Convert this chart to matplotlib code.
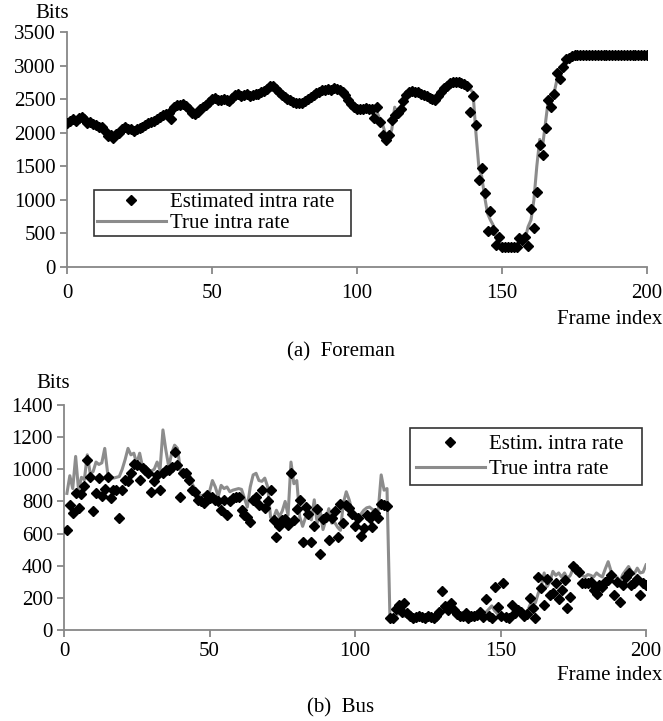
import matplotlib
matplotlib.use('Agg')
import matplotlib.pyplot as plt
import numpy as np

plt.rcParams['font.family'] = ['Liberation Serif', 'DejaVu Serif']

# (a) Foreman, frames 0..200
frames_a = np.arange(0, 201)
true_a = [
    2150, 2170, 2200, 2180, 2220, 2240, 2200, 2150, 2160, 2130,
    2110, 2090, 2080, 2030, 1990, 1970, 1960, 1980, 2020, 2060,
    2090, 2070, 2050, 2040, 2060, 2070, 2090, 2120, 2140, 2160,
    2180, 2210, 2240, 2260, 2280, 2310, 2340, 2380, 2410, 2420,
    2430, 2400, 2350, 2300, 2280, 2310, 2350, 2390, 2420, 2460,
    2500, 2510, 2490, 2480, 2500, 2480, 2470, 2520, 2560, 2570,
    2550, 2560, 2570, 2550, 2560, 2580, 2570, 2600, 2620, 2650,
    2690, 2700, 2650, 2600, 2560, 2530, 2500, 2480, 2460, 2450,
    2440, 2450, 2470, 2500, 2530, 2560, 2590, 2610, 2630, 2640,
    2650, 2640, 2660, 2650, 2630, 2600, 2560, 2480, 2430, 2390,
    2360, 2350, 2360, 2370, 2350, 2360, 2400, 2300, 2180, 2100,
    1950, 1920, 2050, 2380, 2250, 2380, 2480, 2560, 2600, 2620,
    2610, 2600, 2580, 2560, 2540, 2520, 2500, 2490, 2540, 2600,
    2660, 2700, 2740, 2750, 2760, 2760, 2740, 2720, 2700, 2650,
    2600, 2000, 1500, 1350, 1050, 800, 700, 620, 420, 380,
    320, 300, 300, 300, 310, 330, 380, 440, 420, 600,
    700, 1000, 1500, 1900, 1800, 2150, 2500, 2450, 2600, 2800,
    2850, 2980, 3080, 3120, 3140, 3150, 3150, 3150, 3150, 3150,
    3150, 3150, 3150, 3150, 3150, 3150, 3150, 3150, 3150, 3150,
    3150, 3150, 3150, 3155, 3155, 3155, 3155, 3160, 3160, 3160,
    3160,
]
est_a = [
    2150, 2170, 2200, 2180, 2220, 2240, 2200, 2150, 2160, 2130,
    2110, 2090, 2080, 2030, 1950, 1970, 1920, 1980, 2000, 2060,
    2090, 2050, 2050, 2030, 2060, 2070, 2090, 2120, 2140, 2160,
    2180, 2210, 2240, 2260, 2280, 2300, 2210, 2380, 2410, 2420,
    2430, 2400, 2350, 2300, 2280, 2310, 2350, 2390, 2420, 2460,
    2500, 2510, 2490, 2480, 2500, 2480, 2470, 2520, 2560, 2570,
    2550, 2560, 2570, 2550, 2560, 2580, 2570, 2600, 2620, 2650,
    2690, 2700, 2650, 2600, 2560, 2530, 2500, 2480, 2460, 2450,
    2440, 2450, 2470, 2500, 2530, 2560, 2590, 2610, 2630, 2640,
    2650, 2640, 2660, 2650, 2630, 2600, 2560, 2480, 2430, 2390,
    2360, 2350, 2360, 2370, 2350, 2360, 2220, 2390, 2160, 1960,
    1890, 1960, 2190, 2260, 2300, 2360, 2470, 2560, 2600, 2620,
    2610, 2600, 2580, 2560, 2540, 2520, 2500, 2490, 2540, 2600,
    2660, 2700, 2740, 2750, 2760, 2760, 2740, 2720, 2700, 2310,
    2540, 2115, 1296, 1472, 1100, 541, 838, 551, 328, 452,
    303, 300, 300, 305, 300, 300, 430, 400, 450, 318,
    860, 576, 1110, 1817, 1668, 2075, 2487, 2388, 2572, 2885,
    2800, 2983, 3093, 3120, 3140, 3150, 3150, 3150, 3150, 3150,
    3150, 3150, 3150, 3150, 3150, 3150, 3150, 3150, 3150, 3150,
    3150, 3150, 3150, 3155, 3155, 3155, 3155, 3160, 3160, 3160,
    3160,
]

# (b) Bus, frames 1..200
frames_b = np.arange(1, 201)
true_b = [
    850, 960, 880, 1080, 870, 950, 935, 1090, 975, 985,
    1045, 1030, 1040, 1130, 975, 955, 945, 950, 955, 1000,
    1060, 1130, 1090, 1100, 1035, 1100, 1015, 995, 975, 990,
    1000, 1045, 995, 1245, 1120, 1015, 1100, 1150, 1130, 995,
    955, 975, 975, 910, 880, 840, 835, 840, 840, 860,
    930, 890, 830, 900, 880, 890, 860, 870, 875, 880,
    875, 820, 765, 890, 965, 975, 930, 925, 945, 890,
    700, 695, 745, 705, 740, 800, 715, 1045, 910, 930,
    705, 645, 700, 705, 685, 810, 665, 745, 625, 685,
    755, 665, 670, 640, 620, 790, 860, 810, 740, 705,
    690, 720, 745, 760, 765, 750, 745, 745, 965, 870,
    880, 80, 75, 80, 110, 95, 85, 90, 80, 80,
    85, 90, 80, 85, 90, 85, 80, 95, 100, 130,
    165, 140, 120, 110, 95, 90, 85, 95, 85, 80,
    90, 85, 95, 90, 110, 130, 150, 120, 100, 90,
    95, 85, 80, 90, 95, 100, 110, 100, 105, 150,
    190, 170, 230, 270, 355, 270, 300, 365, 340, 355,
    330, 355, 320, 340, 385, 370, 355, 340, 330, 345,
    340, 330, 355, 340, 330, 380, 425, 365, 340, 330,
    300, 345, 370, 395, 365, 350, 385, 355, 360, 405,
]
est_b = [
    620, 780, 730, 850, 760, 845, 895, 1055, 950, 740,
    850, 945, 835, 880, 955, 820, 870, 870, 695, 870,
    935, 925, 975, 1035, 1025, 935, 1005, 995, 975, 860,
    925, 965, 870, 975, 995, 995, 1015, 1110, 1025, 830,
    975, 975, 935, 870, 860, 810, 800, 790, 840, 820,
    830, 810, 800, 745, 810, 715, 800, 820, 830, 830,
    745, 715, 705, 675, 810, 830, 780, 870, 760, 800,
    870, 685, 580, 645, 685, 690, 655, 980, 685, 755,
    810, 550, 765, 720, 550, 645, 750, 475, 690, 705,
    560, 695, 740, 580, 785, 665, 780, 760, 720, 645,
    695, 585, 635, 715, 700, 640, 730, 695, 785, 780,
    770, 75, 75, 130, 155, 115, 165, 105, 90, 75,
    80, 85, 80, 75, 85, 80, 75, 90, 110, 240,
    150, 125, 165, 125, 100, 85, 90, 105, 75, 85,
    85, 95, 115, 80, 195, 90, 75, 270, 145, 85,
    290, 80, 75, 155, 105, 125, 115, 90, 100, 200,
    135, 75, 330, 260, 155, 320, 220, 230, 290, 195,
    250, 310, 140, 205, 400, 380, 360, 290, 290, 290,
    300, 250, 225, 280, 270, 300, 310, 340, 220, 300,
    175, 280, 330, 355, 280, 290, 320, 220, 290, 280,
]

W, H = 663, 721
fig = plt.figure(figsize=(W / 100, H / 100), dpi=100)

axis_gray = '#878787'
line_gray = '#8c8c8c'
fs = 15


def style_axis(ax, ymax, ystep, xpad):
    for s in ['top', 'right']:
        ax.spines[s].set_visible(False)
    for s in ['left', 'bottom']:
        ax.spines[s].set_color(axis_gray)
        ax.spines[s].set_linewidth(1.3)
    ax.set_xlim(0, 200)
    ax.set_ylim(0, ymax)
    ax.set_xticks([0, 50, 100, 150, 200])
    ax.set_yticks(np.arange(0, ymax + 1, ystep))
    ax.tick_params(direction='out', length=5, width=1.3, color=axis_gray,
                   labelsize=fs, labelcolor='black')
    ax.tick_params(axis='x', pad=xpad)
    ax.tick_params(axis='y', pad=3)


# panel (a)
ax1 = fig.add_axes([67 / W, 1 - 267 / H, 580 / W, 235 / H])
ax1.plot(frames_a, true_a, color=line_gray, lw=2.2, label='True intra rate', zorder=2)
ax1.plot(frames_a, est_a, 'D', color='black', ms=5.4, label='Estimated intra rate', zorder=3)
style_axis(ax1, 3500, 500, 7)
h, l = ax1.get_legend_handles_labels()
leg1 = ax1.legend(h[::-1], l[::-1], loc='lower left',
                  bbox_to_anchor=(0.046, 0.132, 0.444, 0.23), mode='expand',
                  fontsize=fs, frameon=True, fancybox=False, edgecolor='black',
                  handlelength=3.3, handletextpad=0.2, borderpad=0.15,
                  labelspacing=0.05, borderaxespad=0)
leg1.get_frame().set_linewidth(1.2)

fig.text(52 / W, 1 - 14 / H, 'Bits', fontsize=fs, ha='center', va='center')
fig.text(662 / W, 1 - 319 / H, 'Frame index', fontsize=fs, ha='right', va='center')
fig.text(341 / W, 1 - 352 / H, '(a)  Foreman', fontsize=fs, ha='center', va='center')

# panel (b)
ax2 = fig.add_axes([64 / W, 1 - 630 / H, 582 / W, 225 / H])
ax2.plot(frames_b, true_b, color=line_gray, lw=2.2, label='True intra rate', zorder=2)
ax2.plot(frames_b, est_b, 'D', color='black', ms=5.4, label='Estim. intra rate', zorder=3)
style_axis(ax2, 1400, 200, 4)
h, l = ax2.get_legend_handles_labels()
leg2 = ax2.legend(h[::-1], l[::-1], loc='lower left',
                  bbox_to_anchor=(0.594, 0.644, 0.399, 0.276), mode='expand',
                  fontsize=fs, frameon=True, fancybox=False, edgecolor='black',
                  handlelength=3.3, handletextpad=0.2, borderpad=0.3,
                  labelspacing=0.25, borderaxespad=0)
leg2.get_frame().set_linewidth(1.2)

fig.text(53 / W, 1 - 384 / H, 'Bits', fontsize=fs, ha='center', va='center')
fig.text(662 / W, 1 - 676 / H, 'Frame index', fontsize=fs, ha='right', va='center')
fig.text(341 / W, 1 - 708 / H, '(b)  Bus', fontsize=fs, ha='center', va='center')

fig.savefig('out.png', dpi=100)
